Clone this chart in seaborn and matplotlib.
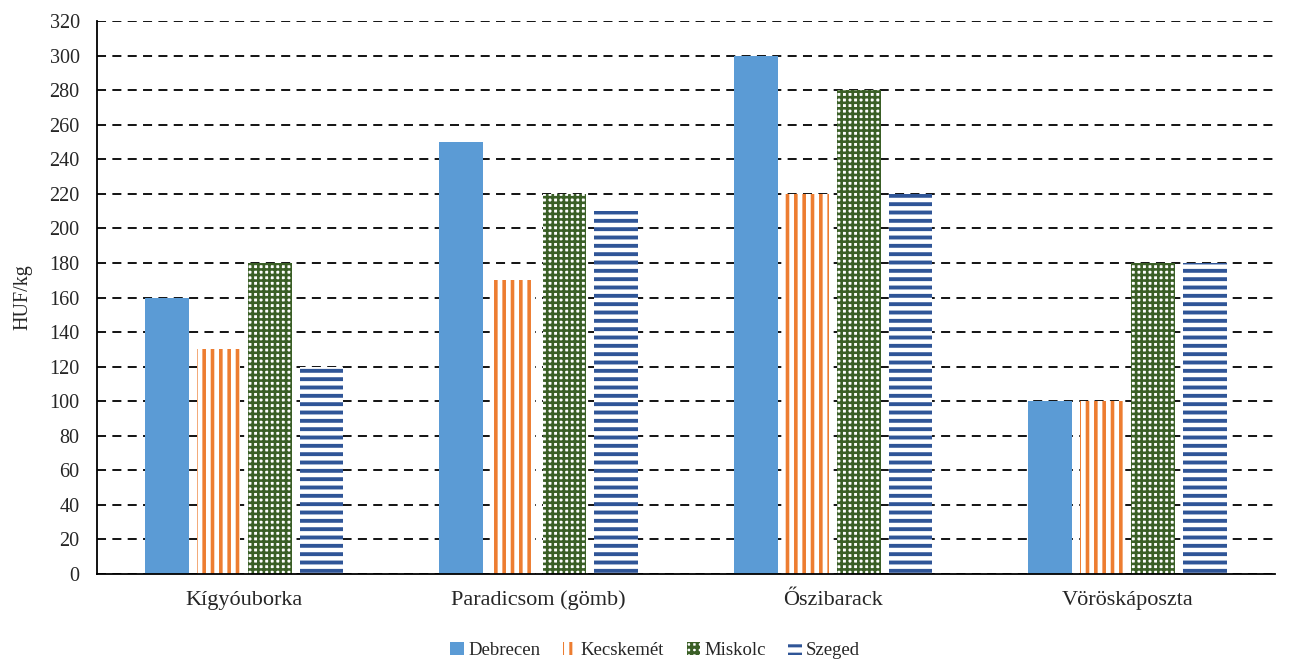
import seaborn as sns
import matplotlib.pyplot as plt
import pandas as pd
from matplotlib.ticker import MultipleLocator, FixedLocator

categories = ["Kígyóuborka", "Paradicsom (gömb)", "Őszibarack", "Vöröskáposzta"]
cities = ["Debrecen", "Kecskemét", "Miskolc", "Szeged"]
debrecen = [160, 250, 300, 100]
kecskemet = [130, 170, 220, 100]
miskolc = [180, 220, 280, 180]
szeged = [120, 210, 220, 180]

rows = []
for city, vals in zip(cities, [debrecen, kecskemet, miskolc, szeged]):
    for cat, v in zip(categories, vals):
        rows.append({"termek": cat, "varos": city, "ar": v})
df = pd.DataFrame(rows)

sns.set_style("white")
plt.rcParams["font.family"] = ["Liberation Serif", "DejaVu Serif"]
plt.rcParams["hatch.linewidth"] = 2.2

# face colour, hatch colour, hatch pattern, hatch line width
styles = {
    "Debrecen": ("#5B9BD5", None, "", 0),
    "Kecskemét": ("white", "#ED7D31", "||", 2.6),
    "Miskolc": ("white", "#3A5F26", "+++", 1.9),
    "Szeged": ("white", "#2F5597", "--", 2.8),
}

fig = plt.figure(figsize=(12.9, 6.6), dpi=100)
ax = fig.add_axes([0.0752, 0.1303, 0.913, 0.8377])
ax.yaxis.grid(True, color="black", linestyle=(0, (5, 3.5)), linewidth=1.3)
ax.set_axisbelow(True)

sns.barplot(data=df, x="termek", y="ar", hue="varos", hue_order=cities,
            order=categories, width=0.7, gap=0.15, palette=["#5B9BD5"] * 4,
            errorbar=None, ax=ax, legend=False, linewidth=0, saturation=1)

handles = []
for cont, city in zip(ax.containers, cities):
    face, hc, hatch, hlw = styles[city]
    for p in cont:
        p.set_facecolor(face)
        if hc:
            p.set_edgecolor(hc)
            p.set_hatch(hatch)
            p.set_linewidth(0)
            if hasattr(p, "set_hatch_linewidth"):
                p.set_hatch_linewidth(hlw)
    handles.append(cont[0])

ax.set_ylim(0, 320)
ax.set_xlim(-0.5, 3.5)
ax.yaxis.set_major_locator(MultipleLocator(20))
ax.set_xlabel("")
ax.set_ylabel("HUF/kg", fontsize=14.5, labelpad=12)
ax.tick_params(axis="y", direction="inout", length=9, width=1.2, labelsize=14.5, pad=8)
ax.tick_params(axis="x", which="major", length=0, labelsize=16, pad=12)
ax.xaxis.set_minor_locator(FixedLocator([-0.5, 0.5, 1.5, 2.5]))
ax.tick_params(axis="x", which="minor", direction="out", length=7, width=1.2)
for s in ["top", "right"]:
    ax.spines[s].set_visible(False)
for s in ["left", "bottom"]:
    ax.spines[s].set_color("black")
    ax.spines[s].set_linewidth(1.3)

fig.legend(handles, cities, loc="center", bbox_to_anchor=(0.508, 0.014), ncol=4,
           frameon=False, fontsize=13.5, handlelength=0.7, handleheight=0.7,
           handletextpad=0.25, columnspacing=1.2)

fig.savefig("out.png", dpi=100)
